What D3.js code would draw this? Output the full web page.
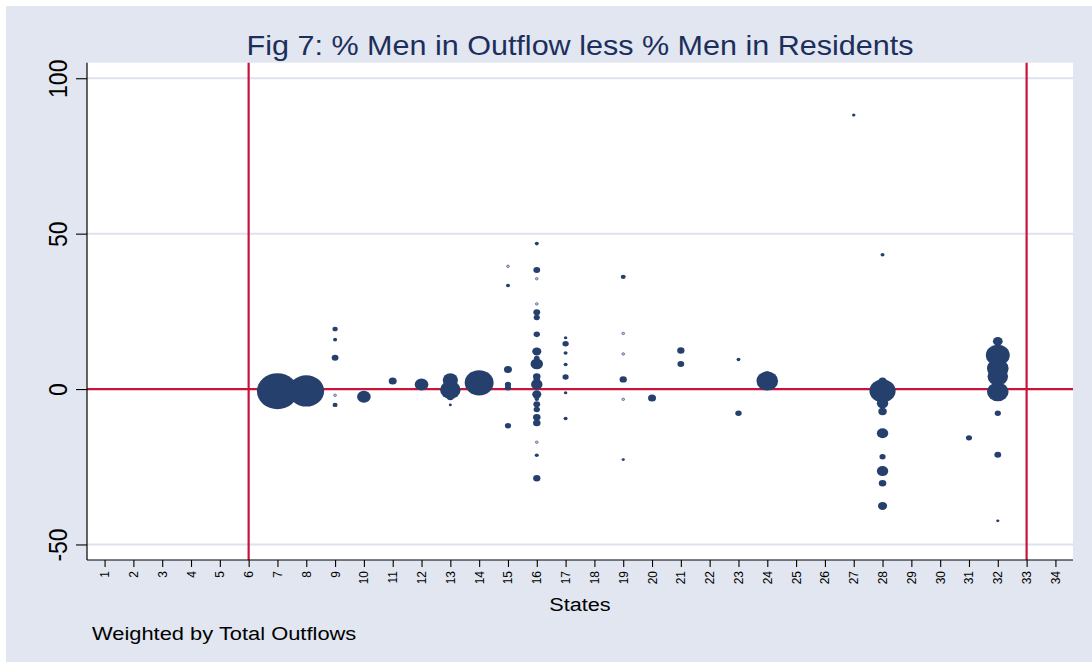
<!DOCTYPE html>
<html>
<head>
<meta charset="utf-8">
<script src="https://cdn.jsdelivr.net/npm/d3@7"></script>
<style>
  html, body { margin: 0; padding: 0; background: #ffffff; }
  svg { display: block; font-family: "Liberation Sans", Arial, sans-serif; }
</style>
</head>
<body>
<svg id="chart" width="1092" height="662"></svg>
<script>
// Origin state of each observation (x position)
const stateIds = [
  7, 8,
  9, 9, 9, 9, 9,
  10, 11, 12,
  13, 13, 13, 13,
  14,
  15, 15, 15, 15, 15, 15,
  16, 16, 16, 16, 16, 16, 16, 16, 16, 16, 16, 16, 16, 16, 16, 16, 16, 16, 16, 16, 16, 16,
  17, 17, 17, 17, 17, 17, 17,
  19, 19, 19, 19, 19, 19,
  20, 21, 21, 23, 23, 24, 24, 27,
  28, 28, 28, 28, 28, 28, 28, 28, 28, 28,
  31,
  32, 32, 32, 32, 32, 32, 32, 32
];
// % men in outflow less % men in residents
const menGap = [
  -0.7, -0.6,
  19.3, 15.9, 10.1, -2.0, -5.1,
  -2.5, 2.6, 1.5,
  2.9, -0.3, -2.6, -5.1,
  2.0,
  39.5, 33.3, 6.3, 1.5, 0.4, -11.8,
  46.8, 38.3, 35.5, 27.4, 24.7, 23.0, 17.6, 12.1, 9.9, 8.1, 4.0, 2.9, 1.5, -1.7, -3.2, -4.9, -6.6, -9.1, -10.9, -17.1, -21.3, -28.7,
  16.5, 14.6, 11.6, 7.9, 3.9, -1.2, -9.5,
  36.1, 17.9, 11.3, 3.1, -3.3, -22.7,
  -2.9, 12.4, 8.1, 9.5, -7.8, 4.8, 2.6, 88.2,
  43.2, 2.6, -0.6, -4.6, -7.2, -14.2, -21.8, -26.4, -30.3, -37.6,
  -15.7,
  15.4, 10.9, 6.6, 4.0, -0.9, -7.8, -21.1, -42.4
];
// Total outflows (marker weight)
const outflows = [
  324, 246,
  5.3, 3.2, 9, 1.4, 4.8,
  36, 12.3, 36,
  45, 81, 9, 1.7,
  161,
  1.4, 3.2, 12.3, 7.3, 7.3, 7.3,
  3.2, 9, 1.4, 1.4, 9, 7.3, 7.8, 16, 6.3, 30, 10.9, 9, 25, 16, 4, 9, 7.8, 10.9, 10.9, 1.4, 3.2, 10.2,
  2.3, 7.8, 3.2, 3.2, 7.3, 2.3, 3.2,
  4.8, 1.4, 1.4, 10.2, 1.4, 2.0,
  12.3, 10.2, 9, 2.9, 7.8, 9, 90, 2.3,
  3.2, 12.3, 132, 25, 13.7, 25, 7.3, 25, 10.9, 16,
  7.3,
  18.5, 110, 90, 81, 90, 7.3, 9, 2.0
];
const xTicks = d3.range(1, 35);
const yTicks = [-50, 0, 50, 100];
const xRefLines = [6, 33];
const yRefLines = [0];

const titleText = "Fig 7: % Men in Outflow less % Men in Residents";
const xTitle = "States";
const noteText = "Weighted by Total Outflows";

const points = stateIds.map((s, i) => ({ state: s, gap: menGap[i], w: outflows[i] }));

const svg = d3.select("#chart");
const W = 1092, H = 662;
const stretch = 1.14;          // horizontal aspect of glyphs and markers
const navy = "#26406e";
const red = "#c8133c";

// Outer graph region
svg.append("rect").attr("x", 0).attr("y", 0).attr("width", W).attr("height", H).attr("fill", "#ffffff");
svg.append("rect").attr("x", 6).attr("y", 6).attr("width", W - 6).attr("height", H - 6).attr("fill", "#e1e6f0");

const plot = { left: 87, right: 1073, top: 62.7, bottom: 560 };

const x = d3.scaleLinear().domain([0.39, 34.61]).range([plot.left, plot.right]);
const y = d3.scaleLinear().domain([-55, 105]).range([plot.bottom, plot.top]);
const r = d3.scaleSqrt().domain([0, 324]).range([0, 18]);

// Plot region
svg.append("rect")
  .attr("x", plot.left).attr("y", plot.top)
  .attr("width", plot.right - plot.left).attr("height", plot.bottom - plot.top)
  .attr("fill", "#ffffff");

// Horizontal gridlines
svg.append("g").selectAll("line").data(yTicks).join("line")
  .attr("x1", plot.left).attr("x2", plot.right)
  .attr("y1", d => y(d)).attr("y2", d => y(d))
  .attr("stroke", "#dde2ed").attr("stroke-width", 2);

// Reference lines
const refs = svg.append("g");
refs.selectAll("line.v").data(xRefLines).join("line").attr("class", "v")
  .attr("x1", d => x(d)).attr("x2", d => x(d))
  .attr("y1", plot.top).attr("y2", plot.bottom)
  .attr("stroke", red).attr("stroke-width", 2.2);
refs.selectAll("line.h").data(yRefLines).join("line").attr("class", "h")
  .attr("x1", plot.left).attr("x2", plot.right)
  .attr("y1", d => y(d)).attr("y2", d => y(d))
  .attr("stroke", red).attr("stroke-width", 2.2);

// Weighted markers
const hollowBelow = 1.5;
svg.append("g").selectAll("ellipse").data(points).join("ellipse")
  .attr("cx", d => x(d.state))
  .attr("cy", d => y(d.gap))
  .attr("rx", d => Math.max(r(d.w), 1.2) * stretch)
  .attr("ry", d => Math.max(r(d.w), 1.2))
  .attr("fill", d => d.w < hollowBelow ? "#c3cadb" : navy)
  .attr("stroke", d => d.w < hollowBelow ? "#4f6290" : "none")
  .attr("stroke-width", 0.8);

// Axes
const yAxis = d3.axisLeft(y).tickValues(yTicks).tickSize(11).tickFormat("");
const gy = svg.append("g").attr("transform", `translate(${plot.left},0)`).call(yAxis);
gy.select(".domain").remove();
gy.selectAll(".tick line").attr("stroke", "#000").attr("stroke-width", 1.1);
svg.append("line").attr("x1", plot.left).attr("x2", plot.left)
  .attr("y1", plot.top).attr("y2", plot.bottom)
  .attr("stroke", "#000").attr("stroke-width", 1.2);

gy.selectAll(".tick").append("text")
  .attr("transform", `translate(-20.5,0) scale(${stretch},1) rotate(-90)`)
  .attr("text-anchor", "middle")
  .attr("fill", "#000")
  .attr("font-size", 23)
  .text(d => d);

const xAxis = d3.axisBottom(x).tickValues(xTicks).tickSize(7).tickFormat("");
const gx = svg.append("g").attr("transform", `translate(0,${plot.bottom})`).call(xAxis);
gx.select(".domain").remove();
gx.selectAll(".tick line").attr("stroke", "#000").attr("stroke-width", 1.1);
svg.append("line").attr("x1", plot.left).attr("x2", plot.right)
  .attr("y1", plot.bottom).attr("y2", plot.bottom)
  .attr("stroke", "#000").attr("stroke-width", 1.2);

gx.selectAll(".tick").append("text")
  .attr("transform", `translate(4,11) scale(${stretch},1) rotate(-90)`)
  .attr("text-anchor", "end")
  .attr("fill", "#000")
  .attr("font-size", 12)
  .text(d => d);

// Titles
svg.append("text")
  .attr("transform", `translate(${(plot.left + plot.right) / 2},55) scale(${stretch},1)`)
  .attr("text-anchor", "middle")
  .attr("fill", "#1c2f5c")
  .attr("font-size", 26.8)
  .text(titleText);

svg.append("text")
  .attr("transform", `translate(${(plot.left + plot.right) / 2},611) scale(${stretch},1)`)
  .attr("text-anchor", "middle")
  .attr("fill", "#000")
  .attr("font-size", 19)
  .text(xTitle);

svg.append("text")
  .attr("transform", `translate(92,640) scale(${stretch},1)`)
  .attr("text-anchor", "start")
  .attr("fill", "#000")
  .attr("font-size", 19.2)
  .text(noteText);
</script>
</body>
</html>
